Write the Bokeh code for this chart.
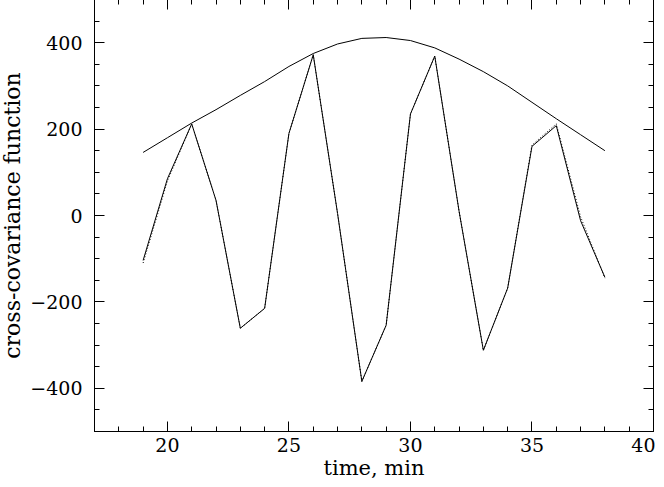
from bokeh.plotting import figure
from bokeh.models import LinearAxis, FixedTicker, Range1d
from bokeh.embed import file_html
from bokeh.resources import INLINE

# data
time_min = list(range(19, 39))
solid = [-104, 85, 212, 35, -261, -215, 190, 372, 5, -384,
         -254, 235, 369, 10, -312, -168, 160, 208, -12, -143]
dotted = [-110, 80, 212, 35, -261, -215, 190, 372, 5, -384,
          -254, 235, 369, 10, -312, -168, 163, 212, -3, -145]
envelope = [146, 180, 214, 245, 278, 310, 345, 375, 397, 410,
            412, 405, 388, 362, 333, 300, 262, 224, 187, 150]

x_major = [20, 25, 30, 35, 40]
x_minor = list(range(17, 41))
y_major = [-400, -200, 0, 200, 400]
y_minor = list(range(-500, 501, 50))

FONT = "DejaVu Serif"

p = figure(width=658, height=486, output_backend="svg", toolbar_location=None,
           x_range=Range1d(17, 40), y_range=Range1d(-500, 500),
           min_border_left=90, min_border_right=2, min_border_top=0,
           min_border_bottom=54)
p.grid.visible = False
p.outline_line_color = "black"
p.outline_line_width = 1
p.background_fill_color = "white"
p.border_fill_color = "white"

p.line(time_min, envelope, line_color="black", line_width=1)
p.line(time_min, dotted, line_color="black", line_width=1, line_dash="1 2")
p.line(time_min, solid, line_color="black", line_width=1)

xt = FixedTicker(ticks=x_major, minor_ticks=x_minor)
yt = FixedTicker(ticks=y_major, minor_ticks=y_minor)

def style(ax, ticker, show_labels=True):
    ax.ticker = ticker
    ax.axis_line_color = "black"
    ax.major_tick_in = 10
    ax.major_tick_out = 0
    ax.minor_tick_in = 5
    ax.minor_tick_out = 0
    ax.major_tick_line_color = "black"
    ax.minor_tick_line_color = "black"
    if show_labels:
        ax.major_label_text_font = FONT
        ax.major_label_text_font_size = "19px"
        ax.major_label_text_color = "black"
        ax.axis_label_text_font = FONT
        ax.axis_label_text_font_size = "21px"
        ax.axis_label_text_font_style = "normal"
        ax.axis_label_text_color = "black"
    else:
        ax.major_label_text_color = None
        ax.major_label_text_font_size = "1px"
        ax.major_label_standoff = 0

xa = p.xaxis[0]
style(xa, xt)
xa.axis_label = "time, min"
xa.major_label_standoff = 6
xa.axis_label_standoff = 1

ya = p.yaxis[0]
style(ya, yt)
ya.axis_label = "cross-covariance function"
ya.axis_label_text_font_size = "22px"
ya.major_label_standoff = 12
ya.axis_label_standoff = 2

top = LinearAxis()
style(top, xt, show_labels=False)
p.add_layout(top, "above")
right = LinearAxis()
style(right, yt, show_labels=False)
p.add_layout(right, "right")

p.styles = {"margin-top": "-1px", "margin-bottom": "-8px", "margin-left": "-3px",
            "margin-right": "-10px"}

open("out.html", "w").write(file_html(p, INLINE))
